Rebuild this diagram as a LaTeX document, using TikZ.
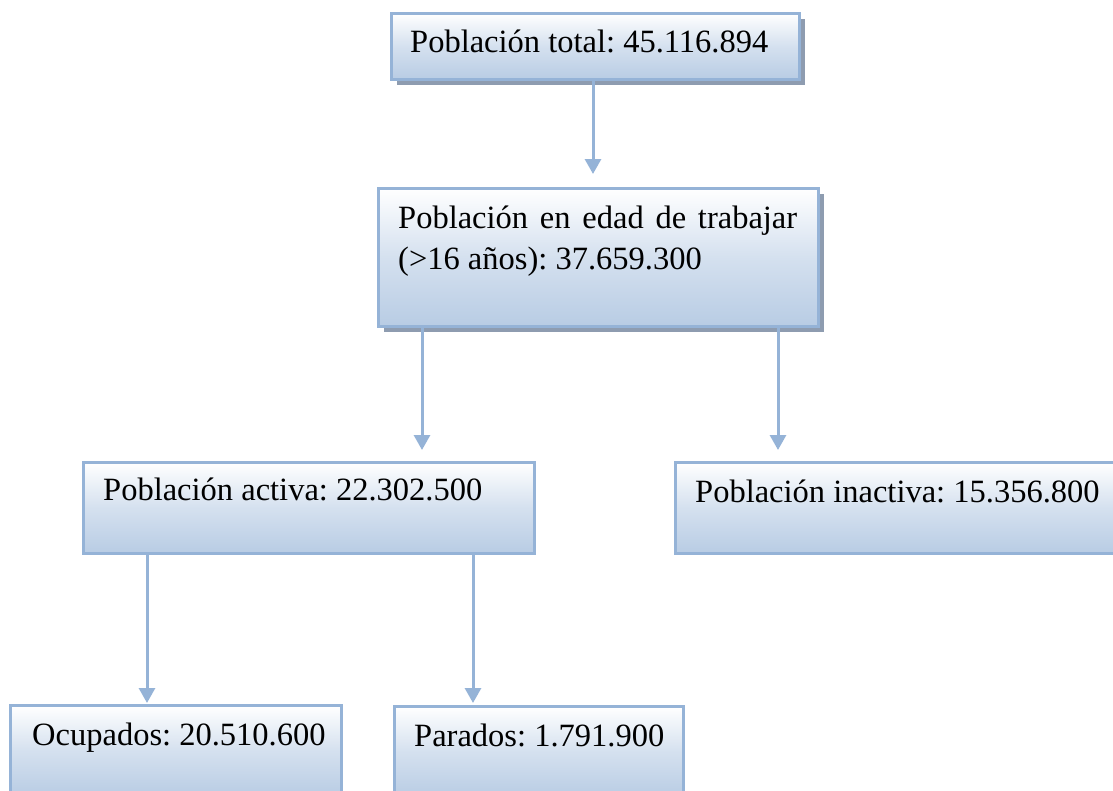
\documentclass[tikz,border=0pt]{standalone}
\usepackage{fontspec}
\setmainfont{Liberation Serif}
\frenchspacing
\usetikzlibrary{arrows.meta,shadows,calc}
\definecolor{boxline}{HTML}{95B3D7}
\definecolor{boxfill}{HTML}{B8CCE4}
\definecolor{shadowgray}{HTML}{8E9CB0}
\tikzset{
  box/.style={draw=boxline, line width=3pt, top color=white, bottom color=boxfill,
              middle color=white!40!boxfill, anchor=north west, inner sep=0pt},
  shadowbox/.style={box, drop shadow={shadow xshift=5pt, shadow yshift=-5pt, fill=shadowgray, opacity=1}},
  lbl/.style={anchor=base west, inner sep=0pt, font=\fontsize{32.5pt}{38pt}\selectfont},
  conn/.style={draw=boxline, line width=3pt, -{Triangle[width=16pt,length=15pt]}}
}
\begin{document}
\begin{tikzpicture}[x=1pt,y=-1pt]
\useasboundingbox (0,0) rectangle (1113,790);
% boxes
\node[shadowbox, minimum width=408pt, minimum height=66pt] (b1) at (390,12) {};
\node[shadowbox, minimum width=440pt, minimum height=138pt] (b2) at (377,187) {};
\node[box, minimum width=451pt, minimum height=91pt] (b3) at (82,461) {};
\node[box, minimum width=460pt, minimum height=91pt] (b4) at (674,461) {};
\node[box, minimum width=331pt, minimum height=91pt] (b5) at (9,704) {};
\node[box, minimum width=289pt, minimum height=91pt] (b6) at (393,705) {};
% texts
\node[lbl] (t1) at (410,52) {Población total: 45.116.894};
\node[lbl] (t2a) at (398,228) {\makebox[399pt][s]{Población en edad de trabajar}};
\node[lbl] (t2b) at (398,269) {(>16 años): 37.659.300};
\node[lbl] (t3) at (103,500) {Población activa: 22.302.500};
\node[lbl] (t4) at (695,502) {Población inactiva: 15.356.800};
\node[lbl] (t5) at (32,745) {Ocupados: 20.510.600};
\node[lbl] (t6) at (414,746) {Parados: 1.791.900};
% connectors
\coordinate (s1) at ($(b1.south west)+(203,0)$);
\draw[conn, shorten >=13pt] (s1) -- (s1 |- b2.north);
\coordinate (s2) at ($(b2.south west)+(45,0)$);
\coordinate (s3) at ($(b2.south west)+(401,0)$);
\draw[conn, shorten >=11pt] (s2) -- (s2 |- b3.north);
\draw[conn, shorten >=11pt] (s3) -- (s3 |- b4.north);
\coordinate (s4) at ($(b3.south west)+(65,0)$);
\coordinate (s5) at ($(b3.south west)+(391,0)$);
\draw[conn, shorten >=1pt] (s4) -- (s4 |- b5.north);
\draw[conn, shorten >=2pt] (s5) -- (s5 |- b6.north);
\end{tikzpicture}
\end{document}
